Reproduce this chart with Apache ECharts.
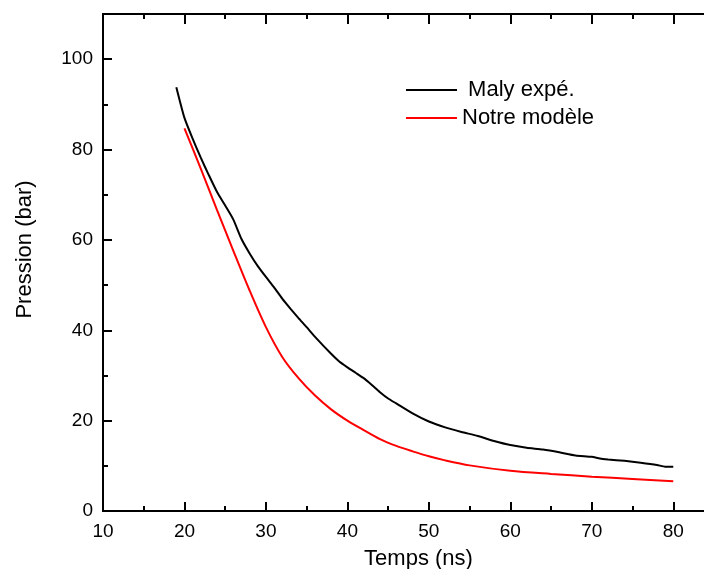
<!DOCTYPE html>
<html><head><meta charset="utf-8">
<script src="https://cdn.jsdelivr.net/npm/echarts@6/dist/echarts.min.js"></script>
<style>html,body{margin:0;padding:0;background:#fff}#c{width:704px;height:569px}</style>
</head><body><div id="c"></div>
<script>
const malyX = [19,20,21,22,23,24,25,26,27,28,29,30,31,32,33,34,35,36,38,39,40,41,42,43,44,45,46,48,50,52,54,56,58,60,62,64,66,68,70,71,72,74,76,78,79,80];
const malyY = [93.8,87.0,82.4,78.2,74.3,70.6,67.6,64.5,60.2,57.0,54.2,51.8,49.5,47.0,44.8,42.7,40.7,38.6,34.8,33.1,31.8,30.6,29.4,27.9,26.3,24.9,23.8,21.6,19.8,18.5,17.5,16.6,15.5,14.6,14.0,13.6,13.0,12.3,12.0,11.6,11.4,11.1,10.7,10.2,9.8,9.8];
const modelX = [20,22,24,26,28,30,32,34,36,38,40,42,44,46,48,50,52,55,60,65,70,75,80];
const modelY = [84.7,75.8,66.6,57.6,48.8,40.7,34.1,29.4,25.6,22.5,20.0,17.9,15.9,14.4,13.2,12.1,11.2,10.1,8.9,8.2,7.6,7.1,6.6];
const seriesNames = [' Maly expé.', 'Notre modèle'];
const xMajor = 10, xMinor = 5, yMajor = 20, yMinor = 10;

const font = 'Liberation Sans, Arial, sans-serif';
const chart = echarts.init(document.getElementById('c'));
const pair = (xs, ys) => xs.map((x, i) => [x, ys[i]]);
const axLine = {show: true, onZero: false, lineStyle: {color: '#000', width: 2}};
function xAx(pos, interval, len, labels, name) {
  return {
    type: 'value', position: pos, min: 10, max: 85, interval: interval,
    axisLine: axLine, splitLine: {show: false},
    axisTick: {show: true, inside: true, length: len, lineStyle: {color: '#000', width: 2}},
    axisLabel: labels ? {show: true, fontFamily: font, fontSize: 19, color: '#000', margin: 11,
      formatter: v => (v % 10 === 0 && v <= 80) ? String(v) : ''} : {show: false},
    name: name || '', nameLocation: 'middle', nameGap: 37,
    nameTextStyle: {fontFamily: font, fontSize: 22, color: '#000', padding: [0, 0, 0, 20]}
  };
}
function yAx(interval, len, labels, name) {
  return {
    type: 'value', position: 'left', min: 0, max: 110, interval: interval,
    axisLine: axLine, splitLine: {show: false},
    axisTick: {show: true, inside: true, length: len, lineStyle: {color: '#000', width: 2}},
    axisLabel: labels ? {show: true, fontFamily: font, fontSize: 19, color: '#000', margin: 10,
      formatter: v => (v % 20 === 0 && v <= 100) ? String(v) : ''} : {show: false},
    name: name || '', nameLocation: 'middle', nameGap: 67,
    nameTextStyle: {fontFamily: font, fontSize: 22, color: '#000', padding: [0, 0, 0, 26]}
  };
}
chart.setOption({
  animation: false,
  backgroundColor: '#fff',
  grid: {left: 103, top: 14, width: 611, height: 497, outerBoundsMode: 'none', containLabel: false},
  xAxis: [
    xAx('bottom', xMinor, 5, true, 'Temps (ns)'),
    xAx('bottom', xMajor, 9, false),
    xAx('top', xMinor, 5, false),
    xAx('top', xMajor, 10, false)
  ],
  yAxis: [
    yAx(yMinor, 5, true, 'Pression (bar)'),
    yAx(yMajor, 9, false)
  ],
  legend: {
    orient: 'vertical', left: 406, top: 79, padding: 0, itemWidth: 51, itemHeight: 2, itemGap: 6,
    icon: 'rect', textStyle: {fontFamily: font, fontSize: 22, color: '#000'},
    data: seriesNames
  },
  series: [
    {name: seriesNames[0], type: 'line', xAxisIndex: 0, yAxisIndex: 0, symbol: 'none', smooth: 0.2,
     lineStyle: {color: '#000', width: 2}, itemStyle: {color: '#000'}, data: pair(malyX, malyY)},
    {name: seriesNames[1], type: 'line', xAxisIndex: 0, yAxisIndex: 0, symbol: 'none', smooth: 0.3,
     lineStyle: {color: '#ff0000', width: 2}, itemStyle: {color: '#ff0000'}, data: pair(modelX, modelY)}
  ]
});
</script></body></html>
